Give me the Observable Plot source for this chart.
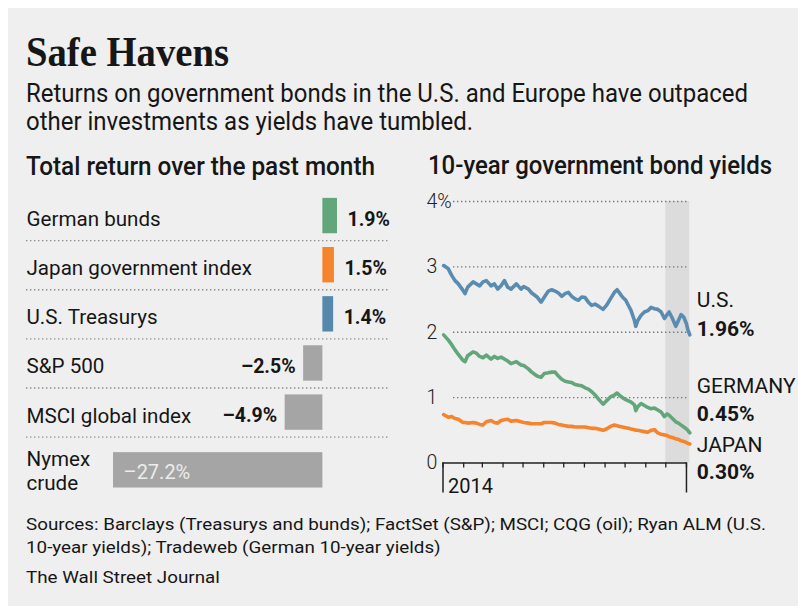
<!DOCTYPE html>
<html>
<head>
<meta charset="utf-8">
<script src="https://cdn.jsdelivr.net/npm/d3@7"></script>
<script src="https://cdn.jsdelivr.net/npm/@observablehq/plot@0.6"></script>
<style>
html, body { margin: 0; padding: 0; background: #ffffff; }
#root { position: relative; width: 798px; height: 606px; overflow: hidden; }
#panel { position: absolute; left: 8px; top: 8px; right: 0; bottom: 0; background: #efefef; }
.abs { position: absolute; }
#texts text { fill: #161616; font-family: Roboto, "Open Sans", sans-serif; }
</style>
</head>
<body>
<div id="root">
  <div id="panel"></div>
  <svg id="texts" class="abs" width="798" height="606" style="left:0;top:0">
    <text id="title" x="26" y="65.5" data-w="203" style="font-family:'Liberation Serif', serif;font-weight:700;font-size:42px">Safe Havens</text>
    <text id="sub1" x="26" y="101.7" data-w="722" style="font-size:25px;font-weight:400">Returns on government bonds in the U.S. and Europe have outpaced</text>
    <text id="sub2" x="26" y="130" data-ref="sub1" style="font-size:25px;font-weight:400">other investments as yields have tumbled.</text>
    <text id="h1" x="26" y="175" data-w="349" style="font-size:25px;font-weight:500">Total return over the past month</text>
    <text id="h2" x="428" y="174" data-w="344" style="font-size:25px;font-weight:500">10-year government bond yields</text>
    <text id="f1" x="26" y="530" data-w="740" style="font-size:17px;font-weight:400">Sources: Barclays (Treasurys and bunds); FactSet (S&amp;P); MSCI; CQG (oil); Ryan ALM (U.S.</text>
    <text id="f2" x="26" y="553" data-ref="f1" style="font-size:17px;font-weight:400">10-year yields); Tradeweb (German 10-year yields)</text>
    <text id="f3" x="26" y="583" data-ref="f1" style="font-size:17px;font-weight:400">The Wall Street Journal</text>
  </svg>
  <div id="left" class="abs" style="left:0;top:190px"></div>
  <div id="right" class="abs" style="left:400px;top:180px"></div>
</div>
<script>
// ---------------- data ----------------
const categories = ["German bunds", "Japan government index", "U.S. Treasurys", "S&P 500", "MSCI global index", "Nymex\ncrude"];
const returns = [1.9, 1.5, 1.4, -2.5, -4.9, -27.2];

const dates = [
  "2014-01-02","2014-01-09","2014-01-14","2014-01-19","2014-01-24","2014-01-31",
  "2014-02-03","2014-02-07","2014-02-15","2014-02-20","2014-02-25",
  "2014-03-02","2014-03-07","2014-03-14","2014-03-19","2014-03-24","2014-03-29",
  "2014-04-03","2014-04-08","2014-04-13","2014-04-21","2014-04-28",
  "2014-05-02","2014-05-09","2014-05-14","2014-05-22","2014-05-28",
  "2014-06-02","2014-06-08","2014-06-13","2014-06-18","2014-06-23","2014-06-28",
  "2014-07-03","2014-07-08","2014-07-13","2014-07-18","2014-07-23","2014-07-28",
  "2014-08-02","2014-08-07","2014-08-12","2014-08-17","2014-08-22","2014-08-29",
  "2014-09-03","2014-09-09","2014-09-15","2014-09-19","2014-09-22","2014-09-27",
  "2014-10-02","2014-10-06","2014-10-10","2014-10-15","2014-10-17","2014-10-20","2014-10-25","2014-10-30",
  "2014-11-04","2014-11-09","2014-11-14","2014-11-19","2014-11-24","2014-11-29",
  "2014-12-03","2014-12-06","2014-12-11","2014-12-16","2014-12-20","2014-12-24","2014-12-28",
  "2015-01-01","2015-01-03","2015-01-06"
];
const usYield = [
  3.02, 2.97, 2.87, 2.79, 2.74, 2.64,
  2.59, 2.69, 2.77, 2.74, 2.71,
  2.77, 2.79, 2.71, 2.74, 2.66, 2.71,
  2.79, 2.69, 2.66, 2.74, 2.66,
  2.70, 2.66, 2.60, 2.54, 2.46,
  2.54, 2.63, 2.65, 2.63, 2.60, 2.55,
  2.59, 2.61, 2.55, 2.51, 2.49, 2.54,
  2.53, 2.46, 2.41, 2.43, 2.40, 2.35,
  2.41, 2.51, 2.61, 2.65, 2.61, 2.54,
  2.49, 2.41, 2.33, 2.18, 2.09, 2.18, 2.26, 2.31,
  2.33, 2.38, 2.36, 2.35, 2.31, 2.21,
  2.27, 2.31, 2.21, 2.09, 2.18, 2.27, 2.23,
  2.13, 2.04, 1.96
];
const germanyYield = [
  1.96, 1.88, 1.81, 1.73, 1.66, 1.57,
  1.55, 1.64, 1.70, 1.68, 1.63,
  1.61, 1.65, 1.59, 1.63, 1.60, 1.62,
  1.59, 1.56, 1.52, 1.55, 1.50,
  1.49, 1.44, 1.39, 1.33, 1.31,
  1.37, 1.38, 1.39, 1.39, 1.33, 1.28,
  1.25, 1.24, 1.23, 1.20, 1.19, 1.18,
  1.15, 1.13, 1.09, 1.04, 0.98, 0.90,
  0.95, 1.01, 1.04, 1.07, 1.04, 1.00,
  0.97, 0.95, 0.93, 0.89, 0.80, 0.86, 0.91, 0.88,
  0.85, 0.83, 0.84, 0.81, 0.78, 0.71,
  0.75, 0.73, 0.68, 0.63, 0.61, 0.58, 0.55,
  0.52, 0.50, 0.46
];
const japanYield = [
  0.74, 0.70, 0.71, 0.68, 0.67, 0.62,
  0.62, 0.61, 0.62, 0.61, 0.59,
  0.58, 0.63, 0.65, 0.62, 0.61, 0.65,
  0.66, 0.67, 0.64, 0.65, 0.63,
  0.62, 0.61, 0.60, 0.60, 0.60,
  0.62, 0.62, 0.62, 0.61, 0.59, 0.58,
  0.57, 0.56, 0.56, 0.55, 0.55, 0.55,
  0.55, 0.54, 0.53, 0.53, 0.52, 0.50,
  0.52, 0.56, 0.58, 0.57, 0.56, 0.55,
  0.54, 0.53, 0.52, 0.51, 0.50, 0.50, 0.49, 0.48,
  0.47, 0.50, 0.51, 0.46, 0.44, 0.43,
  0.42, 0.40, 0.39, 0.37, 0.36, 0.34, 0.33,
  0.31, 0.30, 0.29
];
const seriesNames = ["U.S.", "GERMANY", "JAPAN"];
const latestLabels = ["1.96%", "0.45%", "0.30%"];
const yTicks = [0, 1, 2, 3, 4];
const shadeStart = "2014-12-01";

// ---------------- styles ----------------
const SANS = "Roboto, 'Open Sans', sans-serif";
const INK = "#161616";
const barColors = ["#63a67b", "#f5842d", "#5688ac", "#a5a5a5", "#a5a5a5", "#a5a5a5"];
const lineColors = ["#5a8cb1", "#63a67b", "#f5842d"];
// end-label vertical offsets in px from each line's last point: [name, value]
const endLabelDy = [[-27.6, 0.7], [-39.7, -11.7], [8.2, 34.5]];

// ---------------- left: bar chart ----------------
const rowUnits = categories.map(c => c.includes("\n") ? 1.35 : 1);
let acc = 0;
const rows = categories.map((c, i) => {
  const top = acc; acc += rowUnits[i];
  return {name: c, value: returns[i], color: barColors[i], top, mid: top + rowUnits[i] / 2, multi: c.includes("\n")};
});
const totalUnits = acc;
const separators = rows.slice(1).map(r => r.top);
const fmt = v => (v < 0 ? "\u2013" : "") + Math.abs(v).toFixed(1) + "%";
const half = 0.36;
const inside = r => Math.abs(r.value) > 10;

const leftChart = Plot.plot({
  width: 400, height: 314,
  marginTop: 1, marginBottom: 1, marginLeft: 113, marginRight: 63,
  style: {background: "transparent", fontFamily: SANS, overflow: "visible"},
  x: {domain: d3.extent(returns), axis: null},
  y: {domain: [0, totalUnits], reverse: true, axis: null},
  color: {type: "identity"},
  marks: [
    Plot.ruleY(separators, {stroke: "#8c8c8c", strokeWidth: 1.4, strokeDasharray: "1.4,2.6", insetLeft: -87, insetRight: -51}),
    Plot.rect(rows, {x1: 0, x2: "value", y1: d => d.mid - half, y2: d => d.mid + half, fill: "color"}),
    Plot.text(rows.filter(r => !r.multi), {y: "mid", text: "name", frameAnchor: "left", textAnchor: "start", lineAnchor: "bottom", dx: -87, dy: 10, fontSize: 20.6, fill: INK}),
    Plot.text(rows.filter(r => r.multi), {y: "mid", text: "name", frameAnchor: "left", textAnchor: "start", lineAnchor: "bottom", lineHeight: 1.2, dx: -87, dy: 20, fontSize: 20.6, fill: INK}),
    Plot.text(rows.filter(r => r.value > 0), {x: "value", y: "mid", text: d => fmt(d.value), textAnchor: "start", lineAnchor: "bottom", dx: 10, dy: 9.5, fontSize: 19.5, fontWeight: 700, fill: INK}),
    Plot.text(rows.filter(r => r.value < 0 && !inside(r)), {x: "value", y: "mid", text: d => fmt(d.value), textAnchor: "end", lineAnchor: "bottom", dx: -8, dy: 9.5, fontSize: 19.5, fontWeight: 700, fill: INK}),
    Plot.text(rows.filter(inside), {x: "value", y: "mid", text: d => fmt(d.value), textAnchor: "start", lineAnchor: "bottom", dx: 10, dy: 8.5, fontSize: 20, fontWeight: 400, fill: "#ececec"})
  ]
});
document.getElementById("left").appendChild(leftChart);

// ---------------- right: line chart ----------------
const parse = d3.utcParse("%Y-%m-%d");
const dateObjs = dates.map(parse);
const seriesValues = [usYield, germanyYield, japanYield];
const long = seriesValues.flatMap((vals, i) => vals.map((v, j) => ({date: dateObjs[j], value: v, series: seriesNames[i]})));
const xStart = d3.utcYear.floor(dateObjs[0]);
const xEnd = dateObjs[dateObjs.length - 1];
const months = d3.utcMonth.range(xStart, d3.utcDay.offset(xEnd, 1));
const yearTicks = [xStart, d3.utcYear.offset(xStart, 1)];
const yMax = d3.max(yTicks);

const endMarks = [];
seriesNames.forEach((name, i) => {
  const last = {date: xEnd, value: seriesValues[i][seriesValues[i].length - 1], name, label: latestLabels[i]};
  endMarks.push(Plot.text([last], {x: "date", y: "value", text: "name", textAnchor: "start", lineAnchor: "bottom", dx: 7, dy: endLabelDy[i][0], fontSize: 21, fill: INK}));
  endMarks.push(Plot.text([last], {x: "date", y: "value", text: "label", textAnchor: "start", lineAnchor: "bottom", dx: 7, dy: endLabelDy[i][1], fontSize: 21, fontWeight: 700, fill: INK}));
});

const rightChart = Plot.plot({
  width: 398, height: 330,
  marginTop: 21, marginBottom: 47.5, marginLeft: 42.5, marginRight: 108.7,
  style: {background: "transparent", fontFamily: SANS, overflow: "visible"},
  x: {type: "utc", domain: [xStart, xEnd], label: null},
  y: {domain: [0, yMax], label: null},
  color: {domain: seriesNames, range: lineColors},
  marks: [
    Plot.rect([{x1: parse(shadeStart), x2: xEnd}], {x1: "x1", x2: "x2", y1: 0, y2: yMax, fill: "#dcdcdc"}),
    Plot.ruleY(yTicks.filter(t => t > 0), {stroke: "#777", strokeWidth: 1.4, strokeDasharray: "1.4,2.6", insetLeft: 10.5, insetRight: 2.5}),
    Plot.axisY({ticks: yTicks, tickSize: 0, tickPadding: 0, tickFormat: d => d === yMax ? d + "%" : String(d), textAnchor: "start", dx: -16.5, fontSize: 19.5, fontWeight: 300, fill: "#222", label: null}),
    Plot.line(long, {x: "date", y: "value", z: "series", stroke: "series", strokeWidth: 3.6, strokeLinejoin: "round", strokeLinecap: "round"}),
    Plot.ruleY([0], {stroke: "#222", strokeWidth: 1.5, insetRight: 2.6}),
    Plot.axisX({ticks: months, tickSize: 5, tickFormat: () => "", stroke: "#222", strokeWidth: 1.3, label: null}),
    Plot.axisX({ticks: yearTicks, tickSize: 30, tickFormat: () => "", stroke: "#222", strokeWidth: 1.5, label: null}),
    Plot.text([xStart], {x: d => d, text: d => d3.utcFormat("%Y")(d), frameAnchor: "bottom", textAnchor: "start", lineAnchor: "bottom", dx: 5, dy: 30, fontSize: 20, fill: INK}),
    ...endMarks
  ]
});
document.getElementById("right").appendChild(rightChart);

// ---------------- fit heading text widths ----------------
const factors = {};
document.querySelectorAll("#texts text[data-w]").forEach(t => {
  const nat = t.getComputedTextLength();
  const target = +t.dataset.w;
  factors[t.id] = target / nat;
  t.setAttribute("textLength", target);
  t.setAttribute("lengthAdjust", "spacingAndGlyphs");
});
document.querySelectorAll("#texts text[data-ref]").forEach(t => {
  const nat = t.getComputedTextLength();
  t.setAttribute("textLength", nat * factors[t.dataset.ref]);
  t.setAttribute("lengthAdjust", "spacingAndGlyphs");
});
</script>
</body>
</html>
